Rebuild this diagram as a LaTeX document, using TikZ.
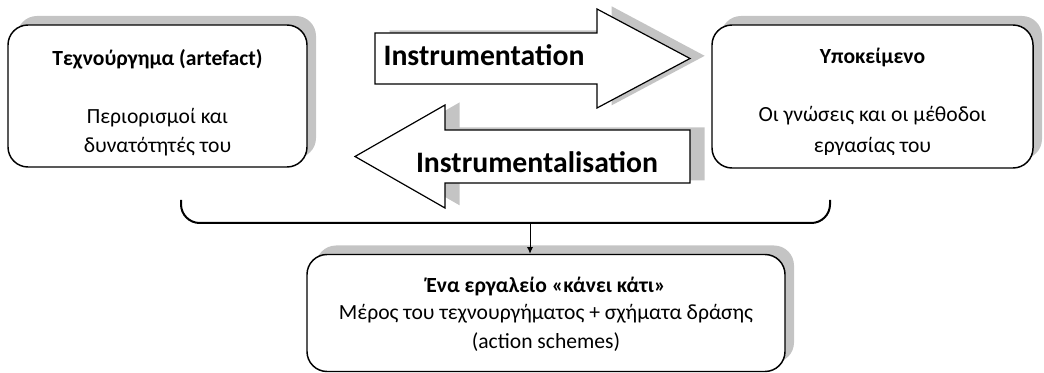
\documentclass[tikz,border=0pt]{standalone}
\usepackage{fontspec}
\setmainfont{Carlito}
\usetikzlibrary{shadows,arrows.meta}
\begin{document}
\begin{tikzpicture}[x=0.75pt,y=-0.75pt,
  boxshadow/.style={drop shadow={shadow xshift=6.75pt,shadow yshift=6.75pt,fill=black!23,opacity=1}},
  arrshadow/.style={drop shadow={shadow xshift=11pt,shadow yshift=2pt,fill=black!23,opacity=1}},
  box/.style={draw=black,line width=1.1pt,fill=white,rounded corners=15pt,boxshadow,inner sep=0pt},
  bigarrow/.style={draw=black,line width=0.9pt,fill=white,line join=miter,arrshadow},
  ttl/.style={font=\bfseries\fontsize{16.2}{19}\selectfont,anchor=base,inner sep=0pt},
  txt/.style={font=\fontsize{16.2}{19}\selectfont,anchor=base,inner sep=0pt},
  big/.style={font=\bfseries\fontsize{22.3}{26}\selectfont,anchor=base,inner sep=0pt},
  brace/.style={draw=black,line width=1.5pt,rounded corners=14pt},
  link/.style={draw=black,line width=0.7pt,-{Latex[length=5pt,width=4.5pt]}}]
\useasboundingbox (0,0) rectangle (1044,373);

% boxes
\node[box,minimum width=224.25pt,minimum height=106.5pt] (L) at (157.5,96) {};
\node[box,minimum width=240.75pt,minimum height=107.25pt] (R) at (872.5,96.5) {};
\node[box,minimum width=358.5pt,minimum height=87.75pt] (B) at (546,313) {};

% big arrows
\draw[bigarrow] (375,33) -- (597,33) -- (597,9) -- (690,58.5) -- (597,108) -- (597,84) -- (375,84) -- cycle;
\draw[bigarrow] (690,130) -- (445,130) -- (445,105) -- (355,156.5) -- (445,208) -- (445,183) -- (690,183) -- cycle;
\node[big] (inst) at (484,66) {Instrumentation};
\node[big] (instl) at (537,173) {Instrumentalisation};

% texts
\node[ttl] (Lt) at (157.5,66) {Τεχνούργημα (artefact)};
\node[txt] (L1) at (157.5,124) {Περιορισμοί και};
\node[txt] (L2) at (157.5,153) {δυνατότητές του};
\node[ttl] (Rt) at (872.5,64) {Υποκείμενο};
\node[txt] (R1) at (872.5,122) {Οι γνώσεις και οι μέθοδοι};
\begin{scope}
\clip (715,135) rectangle (1030,155);
\node[txt] (R2) at (872.5,153) {εργασίας του};
\end{scope}
\node[ttl] (Bt) at (546,293) {Ένα εργαλείο «κάνει κάτι»};
\node[txt] (B1) at (546,320) {Μέρος του τεχνουργήματος + σχήματα δράσης};
\node[txt] (B2) at (546,349) {(action schemes)};

% brace and link
\coordinate (bl) at (181,200);
\coordinate (br) at (830,200);
\coordinate (bm) at (530,223);
\draw[brace] (bl) -- (bl |- bm) -- (br |- bm) -- (br);
\draw[link] (bm) -- (bm |- B.north);
\end{tikzpicture}
\end{document}
